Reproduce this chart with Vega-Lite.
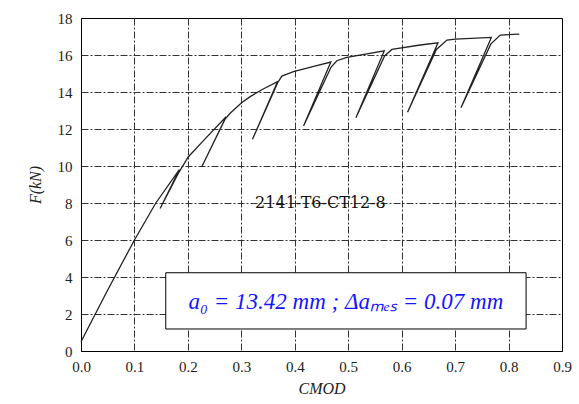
{
  "$schema": "https://vega.github.io/schema/vega-lite/v6.json",
  "width": 481,
  "height": 333,
  "autosize": "none",
  "padding": {"left": 81, "top": 18, "right": 17, "bottom": 53},
  "background": "white",
  "config": {
    "view": {"stroke": "black", "strokeWidth": 1}
  },
  "data": {
    "values": [
      {"kind": "curve", "i": 1, "cmod": 0.0, "f": 0.5},
      {"kind": "curve", "i": 2, "cmod": 0.05, "f": 3.3},
      {"kind": "curve", "i": 3, "cmod": 0.1, "f": 6.0},
      {"kind": "curve", "i": 4, "cmod": 0.14, "f": 8.0},
      {"kind": "curve", "i": 5, "cmod": 0.184, "f": 9.8},
      {"kind": "curve", "i": 6, "cmod": 0.148, "f": 7.7},
      {"kind": "curve", "i": 7, "cmod": 0.182, "f": 9.6},
      {"kind": "curve", "i": 8, "cmod": 0.201, "f": 10.5},
      {"kind": "curve", "i": 9, "cmod": 0.23, "f": 11.4},
      {"kind": "curve", "i": 10, "cmod": 0.2715, "f": 12.66},
      {"kind": "curve", "i": 11, "cmod": 0.226, "f": 9.96},
      {"kind": "curve", "i": 12, "cmod": 0.27, "f": 12.55},
      {"kind": "curve", "i": 13, "cmod": 0.279, "f": 12.85},
      {"kind": "curve", "i": 14, "cmod": 0.3, "f": 13.4},
      {"kind": "curve", "i": 15, "cmod": 0.3165, "f": 13.75},
      {"kind": "curve", "i": 16, "cmod": 0.34, "f": 14.15},
      {"kind": "curve", "i": 17, "cmod": 0.3677, "f": 14.56},
      {"kind": "curve", "i": 18, "cmod": 0.3208, "f": 11.44},
      {"kind": "curve", "i": 19, "cmod": 0.368, "f": 14.5},
      {"kind": "curve", "i": 20, "cmod": 0.3758, "f": 14.86},
      {"kind": "curve", "i": 21, "cmod": 0.3976, "f": 15.1},
      {"kind": "curve", "i": 22, "cmod": 0.43, "f": 15.35},
      {"kind": "curve", "i": 23, "cmod": 0.4675, "f": 15.62},
      {"kind": "curve", "i": 24, "cmod": 0.4164, "f": 12.16},
      {"kind": "curve", "i": 25, "cmod": 0.468, "f": 15.35},
      {"kind": "curve", "i": 26, "cmod": 0.4787, "f": 15.69},
      {"kind": "curve", "i": 27, "cmod": 0.4975, "f": 15.87},
      {"kind": "curve", "i": 28, "cmod": 0.5674, "f": 16.22},
      {"kind": "curve", "i": 29, "cmod": 0.5144, "f": 12.61},
      {"kind": "curve", "i": 30, "cmod": 0.568, "f": 15.95},
      {"kind": "curve", "i": 31, "cmod": 0.5818, "f": 16.3},
      {"kind": "curve", "i": 32, "cmod": 0.6348, "f": 16.54},
      {"kind": "curve", "i": 33, "cmod": 0.668, "f": 16.66},
      {"kind": "curve", "i": 34, "cmod": 0.611, "f": 12.9},
      {"kind": "curve", "i": 35, "cmod": 0.665, "f": 16.3},
      {"kind": "curve", "i": 36, "cmod": 0.6848, "f": 16.81},
      {"kind": "curve", "i": 37, "cmod": 0.7004, "f": 16.86},
      {"kind": "curve", "i": 38, "cmod": 0.7678, "f": 16.95},
      {"kind": "curve", "i": 39, "cmod": 0.711, "f": 13.15},
      {"kind": "curve", "i": 40, "cmod": 0.767, "f": 16.6},
      {"kind": "curve", "i": 41, "cmod": 0.7846, "f": 17.08},
      {"kind": "curve", "i": 42, "cmod": 0.82, "f": 17.13},
      {"kind": "box", "cmod": 0.1586, "cmod2": 0.8328, "f": 1.19, "f2": 4.23},
      {"kind": "boxlabel", "cmod": 0.4957, "f": 2.65, "label": "a₀ = 13.42 mm ; Δaₘₑₛ = 0.07 mm"},
      {"kind": "title", "cmod": 0.448, "f": 8.0, "label": "2141-T6-CT12-8"}
    ]
  },
  "encoding": {
    "x": {
      "field": "cmod", "type": "quantitative",
      "scale": {"domain": [0, 0.9], "nice": false, "zero": false},
      "axis": {
        "title": "CMOD",
        "values": [0, 0.1, 0.2, 0.3, 0.4, 0.5, 0.6, 0.7, 0.8, 0.9],
        "format": ".1f",
        "labelFont": "Liberation Serif",
        "labelFontSize": 15,
        "labelColor": "#222",
        "labelPadding": 8,
        "labelFlush": false,
        "labelOverlap": false,
        "titleFont": "Liberation Serif",
        "titleFontStyle": "italic",
        "titleFontWeight": "normal",
        "titleFontSize": 16,
        "titleColor": "#222",
        "titlePadding": 6,
        "domainColor": "black",
        "ticks": false,
        "gridColor": "#333",
        "gridDash": [7, 2, 2, 2],
        "gridOpacity": {"condition": {"test": "datum.value >= 0.89", "value": 0}, "value": 1}
      }
    },
    "y": {
      "field": "f", "type": "quantitative",
      "scale": {"domain": [0, 18], "nice": false},
      "axis": {
        "title": "F(kN)",
        "values": [0, 2, 4, 6, 8, 10, 12, 14, 16, 18],
        "labelFont": "Liberation Serif",
        "labelFontSize": 15,
        "labelColor": "#222",
        "labelPadding": 9,
        "labelFlush": false,
        "labelOverlap": false,
        "titleFont": "Liberation Serif",
        "titleFontStyle": "italic",
        "titleFontWeight": "normal",
        "titleFontSize": 16,
        "titleColor": "#222",
        "titlePadding": 14,
        "domainColor": "black",
        "ticks": false,
        "gridColor": "#333",
        "gridDash": [7, 2, 2, 2],
        "gridOpacity": {"condition": {"test": "datum.value >= 17.9", "value": 0}, "value": 1}
      }
    }
  },
  "layer": [
    {
      "transform": [{"filter": "datum.kind === 'curve'"}],
      "mark": {"type": "line", "color": "#222", "strokeWidth": 1.3},
      "encoding": {
        "order": {"field": "i", "type": "quantitative"}
      }
    },
    {
      "transform": [{"filter": "datum.kind === 'title'"}],
      "mark": {"type": "text", "font": "DejaVu Serif", "fontSize": 16, "color": "#111", "align": "center", "baseline": "middle"},
      "encoding": {
        "text": {"field": "label"}
      }
    },
    {
      "transform": [{"filter": "datum.kind === 'box'"}],
      "mark": {"type": "rect", "fill": "white", "stroke": "black", "strokeWidth": 1},
      "encoding": {
        "x2": {"field": "cmod2"},
        "y2": {"field": "f2"}
      }
    },
    {
      "transform": [{"filter": "datum.kind === 'boxlabel'"}],
      "mark": {"type": "text", "font": "Liberation Serif", "fontStyle": "italic", "fontSize": 23, "color": "#1414ff", "align": "center", "baseline": "middle"},
      "encoding": {
        "text": {"field": "label"}
      }
    }
  ]
}
